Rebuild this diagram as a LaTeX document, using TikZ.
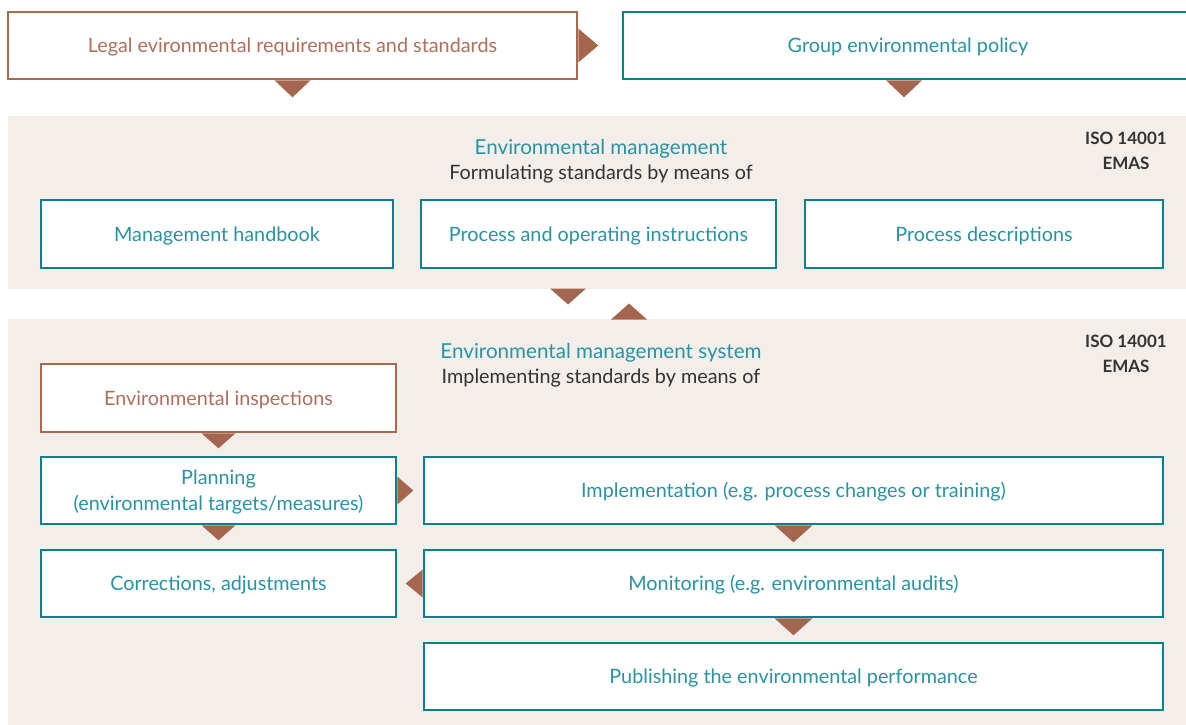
\documentclass[tikz,border=0pt]{standalone}
\usepackage{fontspec}
\setmainfont{Lato}
\usetikzlibrary{calc}
\definecolor{teal1}{HTML}{0E7F8C}
\definecolor{tealtxt}{HTML}{2A93A3}
\definecolor{brownln}{HTML}{A9694F}
\definecolor{browntxt}{HTML}{B06F5A}
\definecolor{brownfill}{HTML}{A4664E}
\definecolor{beige}{HTML}{F3EEEA}
\definecolor{darktxt}{HTML}{333333}
\tikzset{
  panel/.style={fill=beige, draw=none, inner sep=0pt},
  boxfont/.style={font=\fontsize{19.8}{26}\selectfont},
  tbox/.style={draw=teal1, line width=2.6pt, fill=white, text=tealtxt, boxfont, align=center, inner sep=0pt, text height=18pt, text depth=3.5pt},
  bbox/.style={draw=brownln, line width=2.6pt, fill=white, text=browntxt, boxfont, align=center, inner sep=0pt, text height=18pt, text depth=3.5pt},
  multitext/.style={text=tealtxt, boxfont, align=center, inner sep=0pt},
  ttl/.style={text=tealtxt, font=\fontsize{20.6}{25}\selectfont, inner sep=0pt},
  sub/.style={text=darktxt, font=\fontsize{19.8}{25}\selectfont, inner sep=0pt},
  iso/.style={text=darktxt, font=\fontsize{17}{25}\selectfont\bfseries, align=center, inner sep=0pt},
  tri/.style={fill=brownfill, draw=none}
}
\begin{document}
\begin{tikzpicture}[x=1pt,y=-1pt]
\useasboundingbox (0,0) rectangle (1186,725);
% panels
\node[panel, minimum width=1178, minimum height=173] (p1) at (597,202.5) {};
\node[panel, minimum width=1178, minimum height=410] (p2) at (597,524) {};
% top boxes
\node[bbox, minimum width=569, minimum height=67] (legal) at (292.5,45.5) {Legal evironmental requirements and standards};
\node[tbox, minimum width=570, minimum height=67] (group) at (908,45.5) {Group environmental policy};
% triangles top
\fill[tri] ($(legal.east)+(0,-17)$) -- ($(legal.east)+(20,0)$) -- ($(legal.east)+(0,17)$) -- cycle;
\fill[tri] ($(legal.south)+(-18,0)$) -- ($(legal.south)+(18,0)$) -- ($(legal.south)+(0,17)$) -- cycle;
\fill[tri] ($(group.south)+(-22,0)$) -- ($(group.south)+(14,0)$) -- ($(group.south)+(-4,17)$) -- cycle;
% panel 1
\node[ttl] (t1) at (601,148.5) {Environmental management};
\node[sub] (s1) at (601,174.5) {Formulating standards by means of};
\node[iso] (iso1) at (1126,150.5) {ISO 14001\\EMAS};
\node[tbox, minimum width=352, minimum height=68] (mh) at (217,234) {Management handbook};
\node[tbox, minimum width=355, minimum height=68] (poi) at (598.5,234) {Process and operating instructions};
\node[tbox, minimum width=358, minimum height=68] (pd) at (984,234) {Process descriptions};
% triangles between panels
\coordinate (dn) at (568,288.5);
\coordinate (up) at (629,319.5);
\fill[tri] ($(dn)+(-18,0)$) -- ($(dn)+(18,0)$) -- ($(dn)+(0,16)$) -- cycle;
\fill[tri] ($(up)+(-18,0)$) -- ($(up)+(18,0)$) -- ($(up)+(0,-16)$) -- cycle;
% panel 2
\node[ttl] (t2) at (601,352.5) {Environmental management system};
\node[sub] (s2) at (601,378.5) {Implementing standards by means of};
\node[iso] (iso2) at (1126,353.5) {ISO 14001\\EMAS};
\node[bbox, minimum width=355, minimum height=68] (insp) at (218.5,398) {Environmental inspections};
\node[tbox, minimum width=355, minimum height=67] (plan) at (218.5,490.5) {};
\node[multitext] (plantxt) at ($(plan.center)+(0,2)$) {Planning\\(environmental targets/measures)};
\node[tbox, minimum width=739, minimum height=67] (impl) at (793.5,490.5) {Implementation (e.g. process changes or training)};
\node[tbox, minimum width=355, minimum height=67] (corr) at (218.5,583.5) {Corrections, adjustments};
\node[tbox, minimum width=739, minimum height=67] (mon) at (793.5,583.5) {Monitoring (e.g. environmental audits)};
\node[tbox, minimum width=739, minimum height=67] (pub) at (793.5,676.5) {Publishing the environmental performance};
% triangles panel 2
\fill[tri] ($(insp.south)+(-17,0)$) -- ($(insp.south)+(17,0)$) -- ($(insp.south)+(0,15)$) -- cycle;
\fill[tri] ($(plan.south)+(-17,0)$) -- ($(plan.south)+(17,0)$) -- ($(plan.south)+(0,15)$) -- cycle;
\fill[tri] ($(plan.east)+(0,-14)$) -- ($(plan.east)+(16,0)$) -- ($(plan.east)+(0,14)$) -- cycle;
\fill[tri] ($(impl.south)+(-19,0)$) -- ($(impl.south)+(19,0)$) -- ($(impl.south)+(0,17)$) -- cycle;
\fill[tri] ($(mon.west)+(0,-14)$) -- ($(mon.west)+(-17,0)$) -- ($(mon.west)+(0,14)$) -- cycle;
\fill[tri] ($(mon.south)+(-19,0)$) -- ($(mon.south)+(19,0)$) -- ($(mon.south)+(0,17)$) -- cycle;
\end{tikzpicture}
\end{document}
